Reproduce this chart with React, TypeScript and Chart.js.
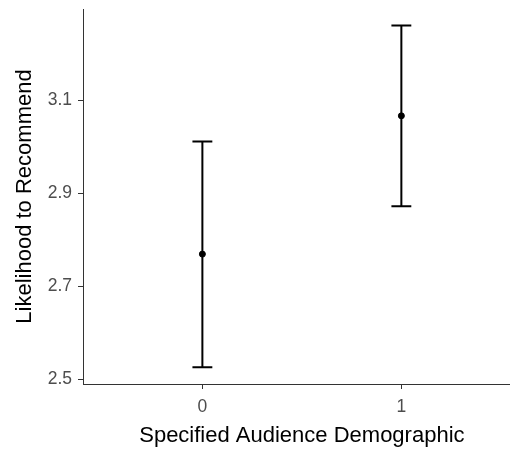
import React, { useEffect, useRef } from "react";
import { Chart, registerables } from "chart.js";

Chart.register(...registerables);

const categories = ["0", "1"];
const means = [2.769, 3.066];
const lower = [2.526, 2.872];
const upper = [3.011, 3.26];
const yTicks = [2.5, 2.7, 2.9, 3.1];
const xTitle = "Specified Audience Demographic";
const yTitle = "Likelihood to Recommend";

const FONT = "'Liberation Sans', Arial, Helvetica, sans-serif";

const errorBarPlugin = {
  id: "errorBars",
  afterDatasetsDraw(chart: any) {
    const { ctx, scales } = chart;
    const xs = scales.x;
    const ys = scales.y;
    ctx.save();
    ctx.strokeStyle = "#000";
    ctx.lineWidth = 2;
    ctx.lineCap = "butt";
    categories.forEach((_, i) => {
      const x = xs.getPixelForValue(i);
      const xl = xs.getPixelForValue(i - 0.05);
      const xr = xs.getPixelForValue(i + 0.05);
      const yl = ys.getPixelForValue(lower[i]);
      const yu = ys.getPixelForValue(upper[i]);
      ctx.beginPath();
      ctx.moveTo(x, yl);
      ctx.lineTo(x, yu);
      ctx.moveTo(xl, yl);
      ctx.lineTo(xr, yl);
      ctx.moveTo(xl, yu);
      ctx.lineTo(xr, yu);
      ctx.stroke();
    });
    // x-axis title centred on the (full) panel, i.e. midway between categories
    const cx = xs.getPixelForValue((categories.length - 1) / 2);
    ctx.fillStyle = "#000";
    ctx.font = `22px ${FONT}`;
    ctx.textAlign = "center";
    ctx.textBaseline = "middle";
    ctx.fillText(xTitle, cx, xs.bottom - 14.7);
    ctx.restore();
  },
};

const zeroPad = (s: any) => {
  s.paddingTop = 0;
  s.paddingBottom = 0;
  s.paddingLeft = 0;
  s.paddingRight = 0;
};

export default function App() {
  const ref = useRef<HTMLCanvasElement | null>(null);
  useEffect(() => {
    if (!ref.current) return;
    const chart = new Chart(ref.current, {
      type: "scatter",
      data: {
        datasets: [
          {
            data: categories.map((_, i) => ({ x: i, y: means[i] })),
            backgroundColor: "#000",
            borderColor: "#000",
            pointRadius: 3,
            pointHoverRadius: 3,
            clip: false,
          },
        ],
      },
      options: {
        responsive: false,
        animation: false,
        events: [],
        layout: { autoPadding: false, padding: { top: 9, right: 0, left: 0, bottom: 0 } },
        plugins: { legend: { display: false }, tooltip: { enabled: false } },
        scales: {
          x: {
            type: "linear",
            min: -0.6,
            max: 1.546,
            afterBuildTicks: (s: any) => {
              s.ticks = categories.map((_, i) => ({ value: i }));
            },
            afterFit: (s: any) => {
              s.height = 67;
              zeroPad(s);
            },
            grid: {
              display: true,
              drawOnChartArea: false,
              drawTicks: true,
              tickLength: 5,
              tickColor: "#333",
              tickWidth: 1,
            },
            border: { display: true, color: "#333", width: 1 },
            ticks: {
              color: "#4d4d4d",
              font: { family: FONT, size: 17.5 },
              padding: 8,
              maxRotation: 0,
              callback: (v: any) => categories[Number(v)] ?? "",
            },
            title: { display: false },
          },
          y: {
            type: "linear",
            min: 2.49,
            max: 3.2955,
            afterBuildTicks: (s: any) => {
              s.ticks = yTicks.map((v) => ({ value: v }));
            },
            afterFit: (s: any) => {
              s.width = 83;
              zeroPad(s);
            },
            grid: {
              display: true,
              drawOnChartArea: false,
              drawTicks: true,
              tickLength: 5,
              tickColor: "#333",
              tickWidth: 1,
            },
            border: { display: true, color: "#333", width: 1 },
            ticks: {
              color: "#4d4d4d",
              font: { family: FONT, size: 17.5 },
              padding: 6,
              callback: (v: any) => Number(v).toFixed(1),
            },
            title: {
              display: true,
              text: yTitle,
              color: "#000",
              font: { family: FONT, size: 22 },
              padding: { top: 11.8, bottom: 0 },
            },
          },
        },
      },
      plugins: [errorBarPlugin],
    });
    return () => chart.destroy();
  }, []);
  return (
    <div style={{ position: "fixed", left: 0, top: 0, width: 510, height: 451, background: "#fff" }}>
      <canvas ref={ref} width={510} height={451} />
    </div>
  );
}
